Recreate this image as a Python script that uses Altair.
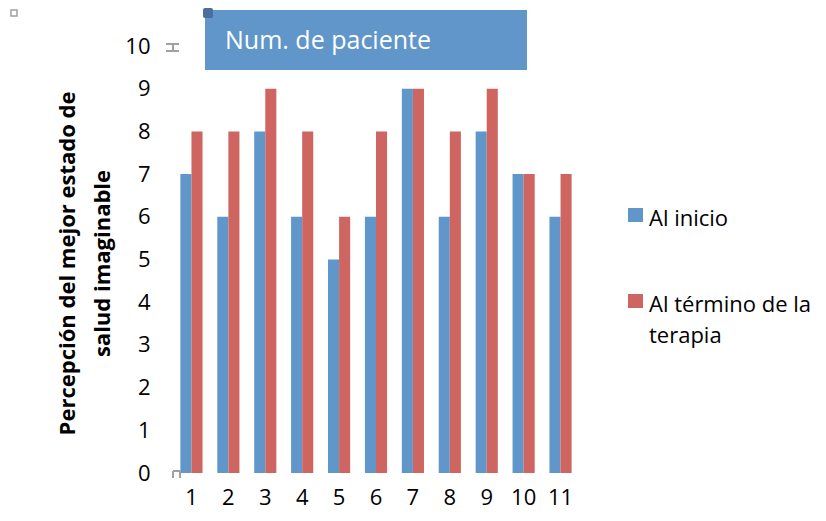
import altair as alt
import pandas as pd

# Patient numbers and self-rated health (0-10) before and after therapy
pacientes = [str(i) for i in range(1, 12)]
al_inicio = [7, 6, 8, 6, 5, 6, 9, 6, 8, 7, 6]
al_termino = [8, 8, 9, 8, 6, 8, 9, 8, 9, 7, 7]
series = ["Al inicio", "Al término de la terapia"]
etiquetas_leyenda = [["Al inicio"], ["Al término de la", "terapia"]]
colores = ["#6096C9", "#CE6560"]
encabezado = "Num. de paciente"

rows = []
for p, a, b in zip(pacientes, al_inicio, al_termino):
    rows.append({"paciente": p, "serie": series[0], "valor": a})
    rows.append({"paciente": p, "serie": series[1], "valor": b})
df = pd.DataFrame(rows)

FONT = "Open Sans"
uno = pd.DataFrame({"k": [0]})

bars = alt.Chart(df).mark_bar().encode(
    x=alt.X(
        "paciente:N",
        sort=pacientes,
        scale=alt.Scale(paddingInner=0.4, paddingOuter=0.2),
        axis=alt.Axis(
            title=None, labelAngle=0, domain=False, ticks=False,
            labelFontSize=22, labelPadding=14, labelColor="#000000", labelFont=FONT,
        ),
    ),
    xOffset=alt.XOffset("serie:N", sort=series),
    y=alt.Y(
        "valor:Q",
        scale=alt.Scale(domain=[0, 10], nice=False),
        axis=alt.Axis(
            values=list(range(0, 11)), grid=False, domain=False, ticks=False,
            labelFontSize=22, labelPadding=23, labelColor="#000000", labelFont=FONT,
            title=["Percepción del mejor estado de", "salud imaginable"],
            titleFontSize=22, titleFontWeight="bold", titleFont=FONT, titleColor="#000000",
            titleAngle=-90, titleX=-106, titleY=217, titleAlign="center",
            titleBaseline="middle", titleLineHeight=35,
        ),
    ),
    color=alt.Color(
        "serie:N", sort=series,
        scale=alt.Scale(domain=series, range=colores),
        legend=None,
    ),
)

# Header box with the x-axis caption
caja = alt.Chart(uno).mark_rect(color="#6096C9").encode(
    x=alt.value(32), x2=alt.value(354), y=alt.value(-36), y2=alt.value(24)
)
asa = alt.Chart(uno).mark_rect(color="#4A6F9C", cornerRadius=2).encode(
    x=alt.value(30), x2=alt.value(40), y=alt.value(-38), y2=alt.value(-28)
)
texto = alt.Chart(uno).mark_text(
    align="left", baseline="middle", fontSize=25, font=FONT, color="white"
).encode(x=alt.value(52), y=alt.value(-5), text=alt.value(encabezado))

# Small grey editing marks around the axis
gris = "#A0A0A0"
marco = alt.Chart(uno).mark_rect(fill="white", stroke=gris, strokeWidth=1.5).encode(
    x=alt.value(-162), x2=alt.value(-156), y=alt.value(-36), y2=alt.value(-30)
)
viga = [
    alt.Chart(uno).mark_rule(color=gris, strokeWidth=2).encode(
        x=alt.value(-7), x2=alt.value(6), y=alt.value(-2)),
    alt.Chart(uno).mark_rule(color=gris, strokeWidth=2).encode(
        x=alt.value(-7), x2=alt.value(6), y=alt.value(5)),
    alt.Chart(uno).mark_rule(color=gris, strokeWidth=2).encode(
        x=alt.value(0), y=alt.value(-2), y2=alt.value(5)),
]
soporte = [
    alt.Chart(uno).mark_rule(color=gris, strokeWidth=2).encode(
        x=alt.value(0), x2=alt.value(7), y=alt.value(425)),
    alt.Chart(uno).mark_rule(color=gris, strokeWidth=2).encode(
        x=alt.value(0), y=alt.value(425), y2=alt.value(432)),
    alt.Chart(uno).mark_rule(color=gris, strokeWidth=2).encode(
        x=alt.value(7), y=alt.value(425), y2=alt.value(432)),
]

# Legend entries: colour square plus (possibly wrapped) label
leyenda = []
for i, (col, lab) in enumerate(zip(colores, etiquetas_leyenda)):
    top = 162 + 86 * i
    base = 180 + 86 * i
    leyenda.append(alt.Chart(uno).mark_rect(color=col).encode(
        x=alt.value(455), x2=alt.value(470), y=alt.value(top), y2=alt.value(top + 14)))
    leyenda.append(alt.Chart(uno).mark_text(
        align="left", baseline="alphabetic", fontSize=22, font=FONT,
        color="#000000", lineHeight=31,
    ).encode(x=alt.value(476), y=alt.value(base), text=alt.value(lab)))

chart = alt.layer(bars, caja, asa, texto, marco, *viga, *soporte, *leyenda).properties(
    width=406, height=427,
    autosize=alt.AutoSizeParams(type="none"),
    padding={"left": 173, "top": 46, "right": 247, "bottom": 48},
    background="white",
).configure_view(stroke=None)

chart.save("out.html", embed_options={"renderer": "svg", "actions": False})
